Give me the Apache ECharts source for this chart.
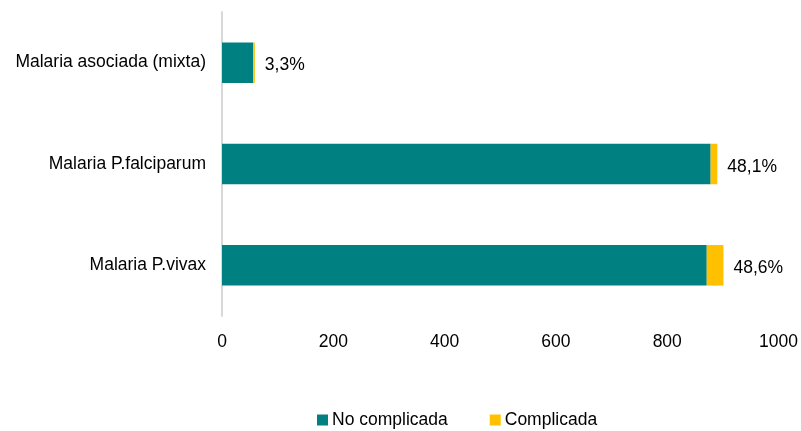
<!DOCTYPE html>
<html>
<head>
<meta charset="utf-8">
<script src="https://cdn.jsdelivr.net/npm/echarts@6/dist/echarts.min.js"></script>
<style>
  html, body { margin: 0; padding: 0; background: #fff; }
  #main { width: 801px; height: 431px; }
</style>
</head>
<body>
<div id="main"></div>
<script>
// datos
const categorias = ['Malaria P.vivax', 'Malaria P.falciparum', 'Malaria asociada (mixta)'];
const noComplicada = [871, 878, 56];
const complicada = [30, 12, 3];
const porcentajes = ['48,6%', '48,1%', '3,3%'];
const ticksX = [0, 200, 400, 600, 800, 1000];

const fuente = "'Liberation Sans Narrow', 'Liberation Sans', Arial, sans-serif";
const tam = 17.5;

const chart = echarts.init(document.getElementById('main'));

const option = {
  animation: false,
  textStyle: { fontFamily: fuente },
  grid: { left: 222, right: 22, top: 12, bottom: 115 },
  legend: {
    data: ['No complicada', 'Complicada'],
    left: 312,
    top: 406,
    icon: 'rect',
    itemWidth: 11,
    itemHeight: 11,
    itemGap: 42,
    textStyle: { fontSize: tam, color: '#000', fontFamily: fuente, padding: [0, 0, 0, -1] }
  },
  xAxis: {
    type: 'value',
    min: ticksX[0],
    max: ticksX[ticksX.length - 1],
    interval: 200,
    axisLine: { show: false },
    axisTick: { show: false },
    splitLine: { show: false },
    axisLabel: { fontSize: tam, color: '#000', margin: 17, fontFamily: fuente, formatter: v => String(v) }
  },
  yAxis: {
    type: 'category',
    data: categorias,
    axisLine: { show: true, lineStyle: { color: '#d9d9d9', width: 2 } },
    axisTick: { show: false },
    axisLabel: { fontSize: tam, color: '#000', margin: 16, fontFamily: fuente, padding: [6, 0, 0, 0] }
  },
  series: [
    {
      name: 'No complicada',
      type: 'bar',
      stack: 'total',
      barCategoryGap: '60%',
      itemStyle: { color: '#008080' },
      data: noComplicada
    },
    {
      name: 'Complicada',
      type: 'bar',
      stack: 'total',
      barCategoryGap: '60%',
      itemStyle: { color: '#FFC000' },
      label: {
        show: true,
        position: 'right',
        distance: 10,
        offset: [0, 3],
        fontSize: tam,
        color: '#000',
        fontFamily: fuente,
        formatter: p => porcentajes[p.dataIndex]
      },
      data: complicada
    }
  ]
};

chart.setOption(option);
</script>
</body>
</html>
